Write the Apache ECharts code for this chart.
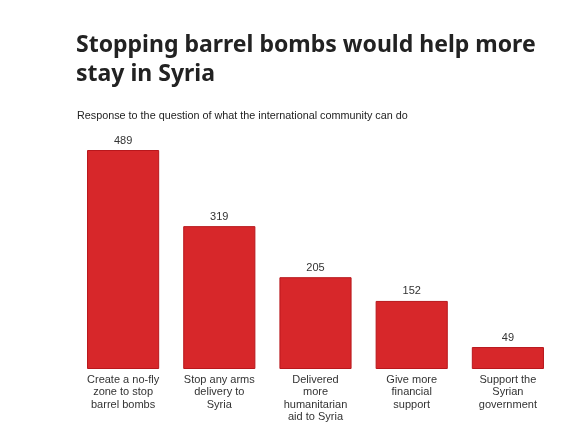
<!DOCTYPE html>
<html>
<head>
<meta charset="utf-8">
<script src="https://cdn.jsdelivr.net/npm/echarts@6/dist/echarts.min.js"></script>
<style>
  html, body { margin: 0; padding: 0; background: #fff; }
  #chart { width: 584px; height: 443px; }
</style>
</head>
<body>
<div id="chart"></div>
<script>
const categories = [
    "Create a no-fly\nzone to stop\nbarrel bombs",
    "Stop any arms\ndelivery to\nSyria",
    "Delivered\nmore\nhumanitarian\naid to Syria",
    "Give more\nfinancial\nsupport",
    "Support the\nSyrian\ngovernment"
];
const responses = [489, 319, 205, 152, 49];

const chart = echarts.init(document.getElementById("chart"));

const option = {
    animation: false,
    title: [
        {
            text: "Stopping barrel bombs would help more\nstay in Syria",
            left: 76,
            top: 31,
            padding: 0,
            textStyle: {
                fontFamily: "Noto Sans",
                fontSize: 23,
                fontWeight: "bold",
                lineHeight: 29,
                color: "#222"
            }
        },
        {
            text: "Response to the question of what the international community can do",
            left: 77,
            top: 111,
            padding: 0,
            textStyle: {
                fontFamily: "Liberation Sans",
                fontSize: 10.8,
                fontWeight: "normal",
                color: "#222"
            }
        }
    ],
    grid: {
        left: 75,
        right: 28,
        top: 150,
        bottom: 74
    },
    xAxis: {
        type: "category",
        data: categories,
        axisLine: { show: false },
        axisTick: { show: false },
        axisLabel: {
            interval: 0,
            margin: 5,
            fontFamily: "Liberation Sans",
            fontSize: 11,
            lineHeight: 12.3,
            color: "#333"
        }
    },
    yAxis: {
        type: "value",
        min: 0,
        max: 489,
        show: false,
        splitLine: { show: false }
    },
    series: [
        {
            type: "bar",
            data: responses,
            barCategoryGap: "25%",
            itemStyle: {
                color: "#d7272a",
                borderColor: "#b8171c",
                borderWidth: 1
            },
            label: {
                show: true,
                position: "top",
                distance: 4,
                fontFamily: "Liberation Sans",
                fontSize: 11,
                color: "#333"
            }
        }
    ]
};

chart.setOption(option);
</script>
</body>
</html>
